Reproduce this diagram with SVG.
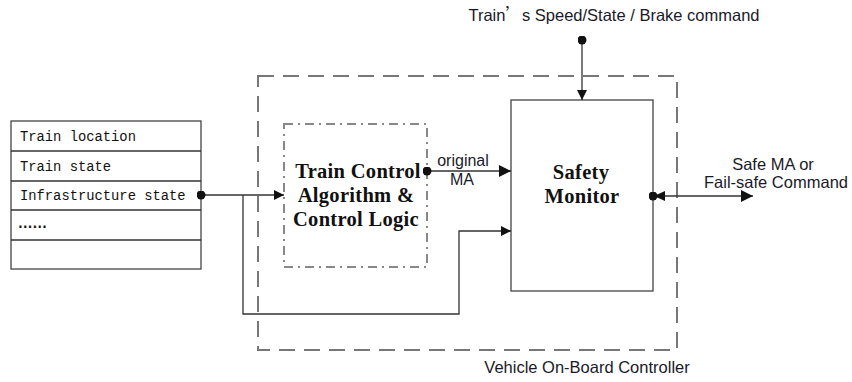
<svg xmlns="http://www.w3.org/2000/svg" width="852" height="382" viewBox="0 0 852 382">
<defs>
<marker id="arr" viewBox="0 0 10 10" refX="10" refY="5" markerWidth="10" markerHeight="10" markerUnits="userSpaceOnUse" orient="auto">
<path d="M0,0 L10,5 L0,10 z" fill="#111"/>
</marker>
<marker id="arrL" viewBox="0 0 12 12" refX="12" refY="6" markerWidth="12" markerHeight="12" markerUnits="userSpaceOnUse" orient="auto">
<path d="M0,0 L12,6 L0,12 z" fill="#111"/>
</marker>
<marker id="dot" viewBox="0 0 10 10" refX="5" refY="5" markerWidth="9" markerHeight="9" markerUnits="userSpaceOnUse">
<circle cx="5" cy="5" r="5" fill="#111"/>
</marker>
</defs>
<style>
.box{fill:#fff;stroke:#444;stroke-width:1.3}
.line{fill:none;stroke:#333;stroke-width:1.3}
.dash{fill:none;stroke:#777;stroke-width:2;stroke-dasharray:16,9}
.dashdot{fill:none;stroke:#888;stroke-width:2;stroke-dasharray:9,5,2,5}
.mono{font-family:"Liberation Mono","DejaVu Sans Mono",monospace;font-size:13.8px;fill:#111}
.sans{font-family:"Liberation Sans",Arial,sans-serif;font-size:16.5px;fill:#1a1a2a}
.bold{font-family:"Liberation Serif","Times New Roman",serif;font-size:20.5px;font-weight:bold;fill:#111;letter-spacing:0.3px}
</style>
<rect width="852" height="382" fill="#fff"/>

<g id="controller">
<rect class="dash" x="258" y="76" width="419" height="274"/>
<text class="sans" x="587" y="373" text-anchor="middle">Vehicle On-Board Controller</text>
</g>

<g id="data-table">
<rect class="box" x="11" y="121" width="190" height="148"/>
<line class="line" x1="11" y1="151" x2="201" y2="151"/>
<line class="line" x1="11" y1="181" x2="201" y2="181"/>
<line class="line" x1="11" y1="210" x2="201" y2="210"/>
<line class="line" x1="11" y1="240" x2="201" y2="240"/>
<text class="mono" x="20" y="141">Train location</text>
<text class="mono" x="20" y="171">Train state</text>
<text class="mono" x="20" y="200">Infrastructure state</text>
<text class="mono" x="18" y="228" style="font-size:24px">……</text>
</g>

<g id="control-algorithm">
<rect class="dashdot" x="284" y="124" width="143" height="143"/>
<text class="bold" text-anchor="middle"><tspan x="358" y="178">Train Control</tspan><tspan x="356" y="202">Algorithm &amp;</tspan><tspan x="356" y="226">Control Logic</tspan></text>
</g>

<g id="safety-monitor">
<rect class="box" x="511" y="100" width="142" height="191"/>
<text class="bold" text-anchor="middle"><tspan x="581" y="179">Safety</tspan><tspan x="582" y="203">Monitor</tspan></text>
</g>

<g id="connectors">
<path class="line" d="M201,195 H284" marker-start="url(#dot)" marker-end="url(#arr)"/>
<path class="line" d="M243,195 V314 H459 V231 H511" marker-end="url(#arr)"/>
<path class="line" d="M427,171 H511" marker-start="url(#dot)" marker-end="url(#arrL)"/>
<path class="line" d="M582,40 V100" marker-start="url(#dot)" marker-end="url(#arr)"/>
<path class="line" d="M653,196 H753" marker-start="url(#dot)" marker-end="url(#arrL)"/>
<path d="M654,196 L665,191 L665,201 z" fill="#111"/>
<text class="sans" x="463" y="166" text-anchor="middle" style="font-size:16px">original</text>
<text class="sans" x="462" y="185" text-anchor="middle" style="font-size:16px">MA</text>
<text class="sans" x="773" y="170" text-anchor="middle">Safe MA or</text>
<text class="sans" x="776" y="188" text-anchor="middle">Fail-safe Command</text>
<text class="sans" x="614" y="21" text-anchor="middle">Train<tspan font-family="'Noto Sans CJK SC',sans-serif">’</tspan>s Speed/State / Brake command</text>
</g>
</svg>
